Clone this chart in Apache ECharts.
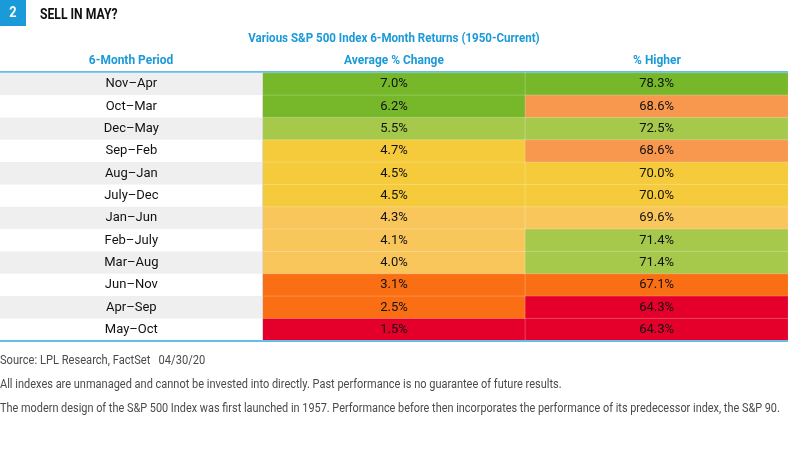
<!DOCTYPE html>
<html>
<head>
<meta charset="utf-8">
<script src="https://cdn.jsdelivr.net/npm/echarts@6/dist/echarts.min.js"></script>
<style>
html,body{margin:0;padding:0;background:#fff;}
#c{width:788px;height:462px;}
</style>
</head>
<body>
<div id="c"></div>
<script>
const periods = ['Nov–Apr','Oct–Mar','Dec–May','Sep–Feb','Aug–Jan','July–Dec','Jan–Jun','Feb–July','Mar–Aug','Jun–Nov','Apr–Sep','May–Oct'];
const avgChange = [7.0,6.2,5.5,4.7,4.5,4.5,4.3,4.1,4.0,3.1,2.5,1.5];
const pctHigher = [78.3,68.6,72.5,68.6,70.0,70.0,69.6,71.4,71.4,67.1,64.3,64.3];
const columns = ['6-Month Period','Average % Change','% Higher'];
const footnotes = [
  'Source: LPL Research, FactSet   04/30/20',
  'All indexes are unmanaged and cannot be invested into directly. Past performance is no guarantee of future results.',
  'The modern design of the S&P 500 Index was first launched in 1957. Performance before then incorporates the performance of its predecessor index, the S&P 90.'
];

const FONT = "Roboto,'Liberation Sans',sans-serif";
const BLUE = '#1a9ad8';
const C = {
  dkGreen:'#76b82a', ltGreen:'#a6c94b', yellow:'#f5cb3b', ltYellow:'#f9c65c',
  ltOrange:'#f8984e', orange:'#fa6f14', red:'#e4002b'
};

const chart = echarts.init(document.getElementById('c'));
const cellLabel = {show:true, color:'#111', fontSize:13, fontWeight:'normal', fontFamily:FONT};
const cellStyle = {borderColor:'rgba(255,255,255,0.22)', borderWidth:1};

function txt(x, y, text, font, fill, align, sx) {
  return {type:'text', x:x, y:y, scaleX:sx, z:20,
    style:{text:text, fill:fill, font:font, align:align, verticalAlign:'middle'}};
}

chart.setOption({
  animation:false,
  grid:{left:0, right:0, top:73, bottom:121},
  xAxis:{type:'category', data:columns, show:false},
  yAxis:{type:'category', data:periods, inverse:true, show:false},
  visualMap:[
    {show:false, seriesIndex:0, dimension:2, type:'piecewise',
     pieces:[{value:0, color:'#efefef'},{value:1, color:'#ffffff'}]},
    {show:false, seriesIndex:1, dimension:2, type:'piecewise',
     pieces:[
       {min:0, max:2, color:C.red},
       {min:2, max:3.5, color:C.orange},
       {min:3.5, max:4.4, color:C.ltYellow},
       {min:4.4, max:5, color:C.yellow},
       {min:5, max:6, color:C.ltGreen},
       {min:6, max:100, color:C.dkGreen}
     ]},
    {show:false, seriesIndex:2, dimension:2, type:'piecewise',
     pieces:[
       {min:0, max:66, color:C.red},
       {min:66, max:68, color:C.orange},
       {min:68, max:69, color:C.ltOrange},
       {min:69, max:69.9, color:C.ltYellow},
       {min:69.9, max:71, color:C.yellow},
       {min:71, max:75, color:C.ltGreen},
       {min:75, max:100, color:C.dkGreen}
     ]}
  ],
  series:[
    {type:'heatmap', data:periods.map((p,i)=>[0,i,i%2]),
     label:Object.assign({}, cellLabel, {formatter:(p)=>periods[p.data[1]]}),
     itemStyle:{borderWidth:0}},
    {type:'heatmap', data:avgChange.map((v,i)=>[1,i,v]),
     label:Object.assign({}, cellLabel, {formatter:(p)=>p.data[2].toFixed(1)+'%'}),
     itemStyle:cellStyle},
    {type:'heatmap', data:pctHigher.map((v,i)=>[2,i,v]),
     label:Object.assign({}, cellLabel, {formatter:(p)=>p.data[2].toFixed(1)+'%'}),
     itemStyle:cellStyle}
  ],
  graphic:[
    {type:'rect', shape:{x:0,y:0,width:26,height:26}, style:{fill:'#1a9ad8'}},
    txt(13, 13, '2', 'bold 15px '+FONT, '#fff', 'center', 0.85),
    txt(40, 15, 'SELL IN MAY?', 'bold 14px '+FONT, '#111', 'left', 0.87),
    txt(394, 39, 'Various S&P 500 Index 6-Month Returns (1950-Current)', 'bold 13px '+FONT, BLUE, 'center', 0.89),
    txt(131, 61, columns[0], 'bold 13px '+FONT, BLUE, 'center', 0.92),
    txt(394, 61, columns[1], 'bold 13px '+FONT, BLUE, 'center', 0.92),
    txt(657, 61, columns[2], 'bold 13px '+FONT, BLUE, 'center', 0.92),
    {type:'rect', shape:{x:0,y:71,width:788,height:2}, style:{fill:'#62bfe9'}},
    {type:'rect', shape:{x:262,y:73,width:1,height:268}, style:{fill:'#dcdcdc'}, z:10},
    {type:'rect', shape:{x:0,y:340,width:788,height:2}, style:{fill:'#62bfe9'}, z:10},
    txt(0, 361, footnotes[0], '12.5px '+FONT, '#4a4a4a', 'left', 0.89),
    txt(0, 385, footnotes[1], '12.5px '+FONT, '#4a4a4a', 'left', 0.88),
    txt(0, 409, footnotes[2], '12.5px '+FONT, '#4a4a4a', 'left', 0.872)
  ]
});
</script>
</body>
</html>
